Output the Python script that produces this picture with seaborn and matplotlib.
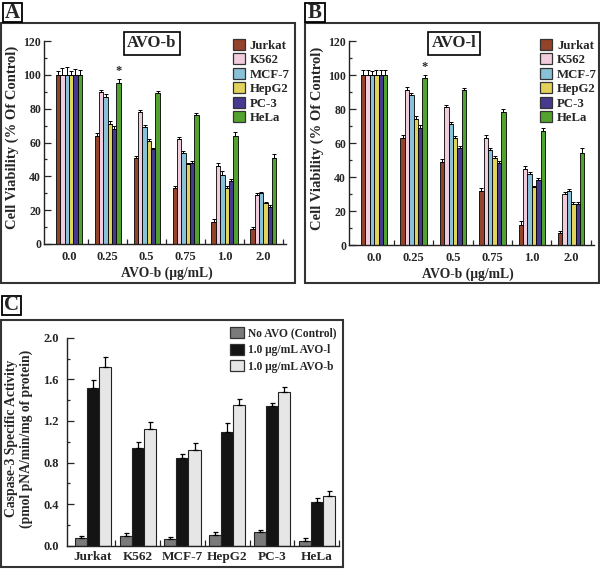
import numpy as np
import pandas as pd
import matplotlib
matplotlib.use("Agg")
import matplotlib.pyplot as plt
import seaborn as sns
from matplotlib.patches import Rectangle
from matplotlib.ticker import MultipleLocator, FixedLocator

# ---------------- data ----------------
concs = ['0.0', '0.25', '0.5', '0.75', '1.0', '2.0']
cells = ['Jurkat', 'K562', 'MCF-7', 'HepG2', 'PC-3', 'HeLa']
cell_colors = ['#a33b17', '#f7c6dd', '#7cc7e6', '#f6e444', '#3a2b9e', '#4cb51c']

# Panel A: AVO-b viability (% of control), rows = cells, cols = concs
avob_jurkat = [100, 64, 51, 33, 13, 9]
avob_k562 = [100, 90, 78, 62, 46, 29]
avob_mcf7 = [100, 87, 69, 54, 41, 30]
avob_hepg2 = [100, 71, 61, 47, 33, 24]
avob_pc3 = [100, 68, 56, 48, 37, 22]
avob_hela = [100, 95, 89, 76, 64, 51]
avob_err_jurkat = [2.5, 1.5, 1.0, 1.0, 1.5, 1.0]
avob_err_k562 = [4.0, 1.0, 1.0, 1.5, 2.0, 1.0]
avob_err_mcf7 = [4.5, 1.5, 1.5, 1.0, 2.0, 1.0]
avob_err_hepg2 = [2.5, 1.5, 1.0, 1.0, 1.5, 1.0]
avob_err_pc3 = [3.5, 1.5, 1.0, 1.0, 1.5, 1.0]
avob_err_hela = [3.0, 2.5, 1.5, 1.5, 2.5, 2.0]

# Panel B: AVO-l viability
avol_jurkat = [100, 63, 49, 32, 12, 7]
avol_k562 = [100, 91, 81, 63, 45, 30]
avol_mcf7 = [100, 88, 71, 56, 42, 32]
avol_hepg2 = [100, 74, 63, 51, 34, 24]
avol_pc3 = [100, 69, 57, 48, 38, 24]
avol_hela = [100, 98, 91, 78, 67, 54]
avol_err_jurkat = [3.0, 1.5, 1.5, 1.5, 2.0, 1.0]
avol_err_k562 = [3.0, 2.0, 1.5, 2.0, 1.5, 1.0]
avol_err_mcf7 = [2.5, 1.5, 1.5, 1.0, 1.0, 1.0]
avol_err_hepg2 = [3.0, 2.0, 1.0, 1.5, 1.0, 1.5]
avol_err_pc3 = [3.0, 1.5, 1.5, 1.5, 1.5, 1.5]
avol_err_hela = [3.0, 2.0, 1.5, 2.0, 2.0, 3.0]

# Panel C: caspase-3 activity
c_groups = ['No AVO (Control)', '1.0 μg/mL AVO-l', '1.0 μg/mL AVO-b']
c_colors = ['#7a7a7a', '#141414', '#e6e6e6']
casp_control = [0.07, 0.09, 0.06, 0.10, 0.13, 0.05]
casp_avol = [1.52, 0.94, 0.84, 1.09, 1.34, 0.42]
casp_avob = [1.72, 1.12, 0.92, 1.35, 1.48, 0.48]
casp_err_control = [0.02, 0.03, 0.02, 0.03, 0.02, 0.02]
casp_err_avol = [0.07, 0.06, 0.04, 0.09, 0.03, 0.04]
casp_err_avob = [0.09, 0.07, 0.07, 0.06, 0.05, 0.05]

# ---------------- style ----------------
sns.set_style("ticks")
plt.rcParams['font.family'] = ['Liberation Serif', 'DejaVu Serif']
plt.rcParams['font.weight'] = 'bold'
plt.rcParams['axes.labelweight'] = 'bold'

W, H = 600, 569
fig = plt.figure(figsize=(W / 100, H / 100), dpi=100)


def px_axes(l, t, r, b):
    return fig.add_axes([l / W, 1 - b / H, (r - l) / W, (b - t) / H])


def px_rect(l, t, r, b, lw=1.5, color='#333333'):
    fig.add_artist(Rectangle((l / W, 1 - b / H), (r - l) / W, (b - t) / H,
                             transform=fig.transFigure, fill=False,
                             edgecolor=color, linewidth=lw))


def panel_label(l, t, r, b, s):
    px_rect(l, t, r, b, lw=1.3, color='black')
    fig.text((l + r) / 2 / W, 1 - (t + b) / 2 / H, s, ha='center', va='center',
             fontsize=15, fontweight='bold')


def long_df(series, errs, groups, names):
    rows = []
    for name, vals, ev in zip(names, series, errs):
        for g, v, e in zip(groups, vals, ev):
            rows.append({'grp': g, 'series': name, 'val': v, 'err': e})
    return pd.DataFrame(rows)


def add_errbars(ax, df, groups, names, capsize, lw):
    conts = list(ax.containers)
    for cont, name in zip(conts, names):
        sub = df[df['series'] == name].set_index('grp').loc[groups]
        xs = [p.get_x() + p.get_width() / 2 for p in cont.patches]
        hs = list(sub['val'])
        es = list(sub['err'])
        ax.errorbar(xs, hs, yerr=[np.zeros(len(es)), es], fmt='none',
                    ecolor='black', elinewidth=lw, capsize=capsize,
                    capthick=lw, zorder=5)
    return conts


def viability_panel(ax, series, errs, title, title_x, ylab_x, xlab_x):
    df = long_df(series, errs, concs, cells)
    sns.barplot(data=df, x='grp', y='val', hue='series', order=concs,
                hue_order=cells, palette=cell_colors, width=0.67,
                edgecolor='black', linewidth=0.6, errorbar=None, ax=ax)
    conts = add_errbars(ax, df, concs, cells, capsize=1.2, lw=0.7)
    # asterisk over HeLa at 0.25
    hela_bar = conts[5].patches[1]
    ax.text(hela_bar.get_x() + hela_bar.get_width() / 2,
            series[5][1] + errs[5][1] + 1.0, '*', ha='center', va='bottom',
            fontsize=9, fontweight='bold')
    ax.set_ylim(0, 120)
    ax.set_xlim(-0.64, 5.58)
    ax.yaxis.set_major_locator(MultipleLocator(20))
    ax.yaxis.set_minor_locator(MultipleLocator(10))
    ax.xaxis.set_minor_locator(FixedLocator(np.arange(0.5, 6, 1)))
    ax.tick_params(axis='y', which='major', direction='in', length=5,
                   width=0.9, labelsize=8.5, pad=2)
    ax.tick_params(axis='y', which='minor', direction='in', length=2.5,
                   width=0.9)
    ax.tick_params(axis='x', which='major', length=0, labelsize=9, pad=5)
    ax.tick_params(axis='x', which='minor', direction='in', length=3.5,
                   width=0.9)
    for s in ['top', 'right']:
        ax.spines[s].set_visible(False)
    for s in ['left', 'bottom']:
        ax.spines[s].set_linewidth(1.0)
        ax.spines[s].set_color('#222222')
    ax.set_ylabel('Cell Viability (% Of Control)', fontsize=10.5,
                  fontweight='bold')
    ax.yaxis.set_label_coords(ylab_x, 0.525)
    ax.set_xlabel('AVO-b (μg/mL)', fontsize=9.8, fontweight='bold')
    ax.xaxis.set_label_coords(xlab_x, -0.11)
    ax.legend(loc='upper left', bbox_to_anchor=(0.781, 1.01), frameon=False,
              borderaxespad=0, borderpad=0, handlelength=0.95,
              handleheight=0.95, handletextpad=0.35, labelspacing=0.12,
              prop={'family': 'Liberation Serif', 'weight': 'bold',
                    'size': 9.2})
    for h in ax.get_legend().legend_handles:
        h.set_edgecolor('#333333')
        h.set_linewidth(0.9)
    ax.text(title_x, 0.988, title, transform=ax.transAxes, ha='center',
            va='center', fontsize=12, fontweight='bold',
            bbox=dict(boxstyle='square,pad=0.22', facecolor='white',
                      edgecolor='black', linewidth=1.2), zorder=6)


# ---------------- panel A ----------------
px_rect(1, 23, 295, 283)
panel_label(3, 3, 22, 22, 'A')
axA = px_axes(44, 41, 286, 244)
viability_panel(axA,
                [avob_jurkat, avob_k562, avob_mcf7, avob_hepg2, avob_pc3, avob_hela],
                [avob_err_jurkat, avob_err_k562, avob_err_mcf7, avob_err_hepg2,
                 avob_err_pc3, avob_err_hela],
                'AVO-b', 0.446, -0.105, 0.507)

# ---------------- panel B ----------------
px_rect(305, 23, 599, 283)
panel_label(305, 3, 325, 22, 'B')
axB = px_axes(349, 41, 594, 245)
viability_panel(axB,
                [avol_jurkat, avol_k562, avol_mcf7, avol_hepg2, avol_pc3, avol_hela],
                [avol_err_jurkat, avol_err_k562, avol_err_mcf7, avol_err_hepg2,
                 avol_err_pc3, avol_err_hela],
                'AVO-l', 0.43, -0.104, 0.486)

# ---------------- panel C ----------------
px_rect(1, 320, 343, 567)
panel_label(2, 296, 21, 315, 'C')
axC = px_axes(67, 337.7, 339, 545.7)
dfC = long_df([casp_control, casp_avol, casp_avob],
              [casp_err_control, casp_err_avol, casp_err_avob], cells, c_groups)
sns.barplot(data=dfC, x='grp', y='val', hue='series', order=cells,
            hue_order=c_groups, palette=c_colors, width=0.81,
            edgecolor='#222222', linewidth=0.8, errorbar=None, ax=axC)
add_errbars(axC, dfC, cells, c_groups, capsize=1.8, lw=0.9)
axC.set_ylim(0, 2.0)
axC.set_xlim(-0.58, 5.5)
axC.yaxis.set_major_locator(MultipleLocator(0.4))
axC.yaxis.set_minor_locator(MultipleLocator(0.2))
axC.yaxis.set_major_formatter(matplotlib.ticker.FormatStrFormatter('%.1f'))
axC.xaxis.set_minor_locator(FixedLocator(np.arange(0.5, 6, 1)))
axC.tick_params(axis='y', which='major', direction='in', length=5, width=0.9,
                labelsize=9, pad=6)
axC.tick_params(axis='y', which='minor', direction='in', length=2.5, width=0.9)
axC.tick_params(axis='x', which='major', length=0, labelsize=9.5, pad=4)
axC.tick_params(axis='x', which='minor', direction='in', length=4, width=0.9)
for s in ['top', 'right']:
    axC.spines[s].set_visible(False)
for s in ['left', 'bottom']:
    axC.spines[s].set_linewidth(1.0)
    axC.spines[s].set_color('#222222')
axC.set_xlabel('')
axC.set_ylabel('Caspase-3 Specific Activity\n(pmol pNA/min/mg of protein)',
               fontsize=9.8, fontweight='bold', linespacing=1.1)
axC.yaxis.set_label_coords(-0.125, 0.515)
axC.legend(loc='upper left', bbox_to_anchor=(0.599, 1.05), frameon=False,
           borderaxespad=0, borderpad=0, handlelength=1.2, handleheight=1.1,
           handletextpad=0.4, labelspacing=0.35,
           prop={'family': 'Liberation Serif', 'weight': 'bold', 'size': 8.3})
for h in axC.get_legend().legend_handles:
    h.set_edgecolor('#333333')
    h.set_linewidth(0.9)

fig.savefig('out.png', dpi=100)
